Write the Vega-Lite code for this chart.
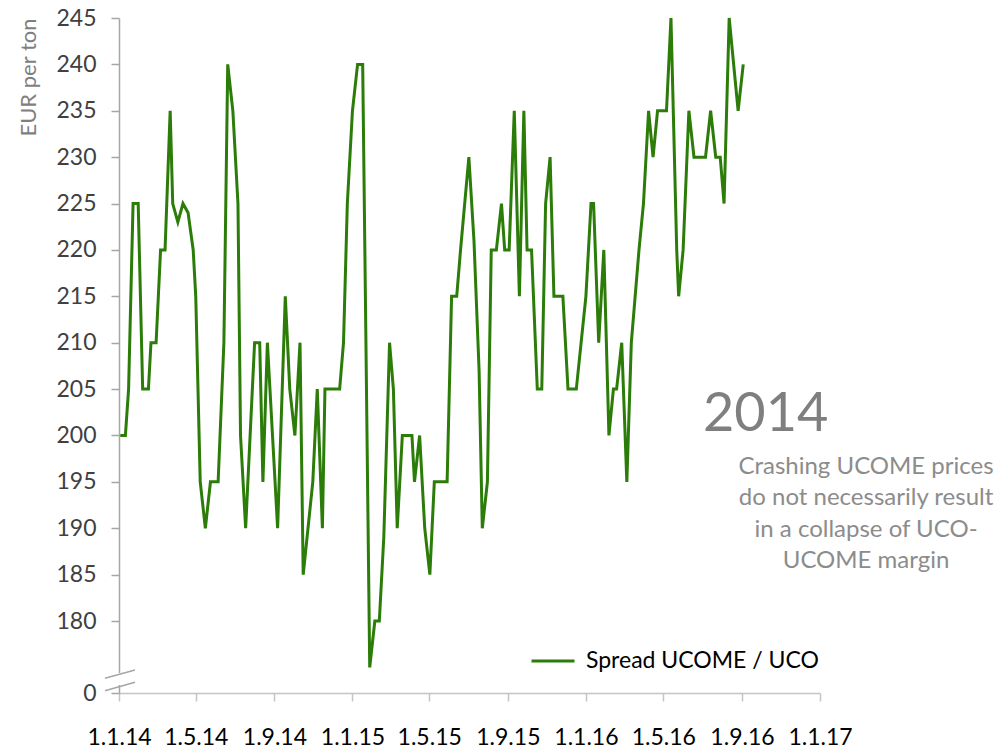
{
  "$schema": "https://vega.github.io/schema/vega-lite/v6.json",
  "width": 701,
  "height": 675,
  "autosize": {"type": "none"},
  "padding": {"left": 119, "top": 18, "right": 182, "bottom": 55},
  "background": "white",
  "config": {"view": {"stroke": null}, "font": "Lato"},
  "layer": [
    {
      "data": {"values": [
        {"date": "2014-01-03", "value": 200}, {"date": "2014-01-11", "value": 200}, {"date": "2014-01-16", "value": 205},
        {"date": "2014-01-23", "value": 225}, {"date": "2014-01-31", "value": 225}, {"date": "2014-02-07", "value": 205},
        {"date": "2014-02-16", "value": 205}, {"date": "2014-02-20", "value": 210}, {"date": "2014-02-28", "value": 210},
        {"date": "2014-03-07", "value": 220}, {"date": "2014-03-14", "value": 220}, {"date": "2014-03-22", "value": 235},
        {"date": "2014-03-26", "value": 225}, {"date": "2014-04-03", "value": 223}, {"date": "2014-04-11", "value": 225},
        {"date": "2014-04-19", "value": 224}, {"date": "2014-04-27", "value": 220}, {"date": "2014-05-01", "value": 215},
        {"date": "2014-05-08", "value": 195}, {"date": "2014-05-16", "value": 190}, {"date": "2014-05-24", "value": 195},
        {"date": "2014-06-05", "value": 195}, {"date": "2014-06-14", "value": 210}, {"date": "2014-06-20", "value": 240},
        {"date": "2014-06-28", "value": 235}, {"date": "2014-07-06", "value": 225}, {"date": "2014-07-10", "value": 200},
        {"date": "2014-07-18", "value": 190}, {"date": "2014-08-01", "value": 210}, {"date": "2014-08-09", "value": 210},
        {"date": "2014-08-14", "value": 195}, {"date": "2014-08-21", "value": 210}, {"date": "2014-09-06", "value": 190},
        {"date": "2014-09-18", "value": 215}, {"date": "2014-09-25", "value": 205}, {"date": "2014-10-03", "value": 200},
        {"date": "2014-10-11", "value": 210}, {"date": "2014-10-16", "value": 185}, {"date": "2014-10-31", "value": 195},
        {"date": "2014-11-07", "value": 205}, {"date": "2014-11-15", "value": 190}, {"date": "2014-11-19", "value": 205},
        {"date": "2014-12-12", "value": 205}, {"date": "2014-12-18", "value": 210}, {"date": "2014-12-24", "value": 225},
        {"date": "2015-01-01", "value": 235}, {"date": "2015-01-09", "value": 240}, {"date": "2015-01-17", "value": 240},
        {"date": "2015-01-28", "value": 175}, {"date": "2015-02-05", "value": 180}, {"date": "2015-02-12", "value": 180},
        {"date": "2015-02-19", "value": 189}, {"date": "2015-02-28", "value": 210}, {"date": "2015-03-06", "value": 205},
        {"date": "2015-03-12", "value": 190}, {"date": "2015-03-20", "value": 200}, {"date": "2015-04-04", "value": 200},
        {"date": "2015-04-08", "value": 195}, {"date": "2015-04-16", "value": 200}, {"date": "2015-04-24", "value": 190},
        {"date": "2015-05-02", "value": 185}, {"date": "2015-05-09", "value": 195}, {"date": "2015-05-29", "value": 195},
        {"date": "2015-06-05", "value": 215}, {"date": "2015-06-13", "value": 215}, {"date": "2015-06-19", "value": 220},
        {"date": "2015-07-02", "value": 230}, {"date": "2015-07-10", "value": 221}, {"date": "2015-07-18", "value": 207},
        {"date": "2015-07-23", "value": 190}, {"date": "2015-07-31", "value": 195}, {"date": "2015-08-06", "value": 220},
        {"date": "2015-08-14", "value": 220}, {"date": "2015-08-22", "value": 225}, {"date": "2015-08-27", "value": 220},
        {"date": "2015-09-03", "value": 220}, {"date": "2015-09-11", "value": 235}, {"date": "2015-09-19", "value": 215},
        {"date": "2015-09-26", "value": 235}, {"date": "2015-10-01", "value": 220}, {"date": "2015-10-08", "value": 220},
        {"date": "2015-10-17", "value": 205}, {"date": "2015-10-24", "value": 205}, {"date": "2015-10-30", "value": 225},
        {"date": "2015-11-06", "value": 230}, {"date": "2015-11-12", "value": 215}, {"date": "2015-11-26", "value": 215},
        {"date": "2015-12-04", "value": 205}, {"date": "2015-12-17", "value": 205}, {"date": "2016-01-01", "value": 215},
        {"date": "2016-01-09", "value": 225}, {"date": "2016-01-13", "value": 225}, {"date": "2016-01-21", "value": 210},
        {"date": "2016-01-29", "value": 220}, {"date": "2016-02-06", "value": 200}, {"date": "2016-02-13", "value": 205},
        {"date": "2016-02-18", "value": 205}, {"date": "2016-02-26", "value": 210}, {"date": "2016-03-05", "value": 195},
        {"date": "2016-03-12", "value": 210}, {"date": "2016-03-18", "value": 215}, {"date": "2016-03-24", "value": 220},
        {"date": "2016-03-31", "value": 225}, {"date": "2016-04-08", "value": 235}, {"date": "2016-04-15", "value": 230},
        {"date": "2016-04-22", "value": 235}, {"date": "2016-05-06", "value": 235}, {"date": "2016-05-13", "value": 245},
        {"date": "2016-05-22", "value": 220}, {"date": "2016-05-25", "value": 215}, {"date": "2016-06-01", "value": 220},
        {"date": "2016-06-10", "value": 235}, {"date": "2016-06-18", "value": 230}, {"date": "2016-07-06", "value": 230},
        {"date": "2016-07-14", "value": 235}, {"date": "2016-07-22", "value": 230}, {"date": "2016-07-29", "value": 230},
        {"date": "2016-08-04", "value": 225}, {"date": "2016-08-12", "value": 245}, {"date": "2016-08-26", "value": 235},
        {"date": "2016-09-03", "value": 240}
      ]},
      "mark": {"type": "line", "strokeWidth": 3},
      "encoding": {
        "x": {
          "field": "date", "type": "temporal",
          "scale": {"type": "utc", "domain": [{"year": 2014, "month": 1, "date": 1, "utc": true}, {"year": 2017, "month": 1, "date": 1, "utc": true}]},
          "axis": {
            "values": [
              {"year": 2014, "month": 1, "date": 1, "utc": true}, {"year": 2014, "month": 5, "date": 1, "utc": true},
              {"year": 2014, "month": 9, "date": 1, "utc": true}, {"year": 2015, "month": 1, "date": 1, "utc": true},
              {"year": 2015, "month": 5, "date": 1, "utc": true}, {"year": 2015, "month": 9, "date": 1, "utc": true},
              {"year": 2016, "month": 1, "date": 1, "utc": true}, {"year": 2016, "month": 5, "date": 1, "utc": true},
              {"year": 2016, "month": 9, "date": 1, "utc": true}, {"year": 2017, "month": 1, "date": 1, "utc": true}
            ],
            "labelExpr": "utcFormat(datum.value, '%-d.%-m.%y')",
            "title": null, "grid": false,
            "domainColor": "#c4c4c4", "domainWidth": 1.5,
            "tickColor": "#c4c4c4", "tickWidth": 1.5, "tickSize": 8,
            "labelFont": "Lato", "labelFontSize": 23, "labelColor": "#000000",
            "labelPadding": 25, "labelFlush": false, "labelOverlap": false
          }
        },
        "y": {
          "field": "value", "type": "quantitative",
          "scale": {"domain": [172.24, 245], "nice": false, "zero": false},
          "axis": {
            "values": [172.24, 180, 185, 190, 195, 200, 205, 210, 215, 220, 225, 230, 235, 240, 245],
            "labelExpr": "datum.value < 175 ? '0' : datum.label",
            "title": "EUR per ton", "titleAnchor": "end", "titleFont": "Lato", "titleFontSize": 22,
            "titleFontWeight": "normal", "titleColor": "#7f7f7f", "titlePadding": 15,
            "grid": false,
            "domainColor": "#a6a6a6", "domainWidth": 1.5,
            "tickColor": "#a6a6a6", "tickWidth": 1.5, "tickSize": 8,
            "labelFont": "Lato", "labelFontSize": 23, "labelColor": "#404040", "labelPadding": 15
          }
        },
        "color": {
          "datum": "Spread UCOME / UCO",
          "scale": {"range": ["#2b7c08"]},
          "legend": {
            "orient": "none", "legendX": 411, "legendY": 620, "title": null, "padding": 0,
            "symbolType": "stroke", "symbolStrokeWidth": 3, "symbolSize": 1849,
            "labelFont": "Lato", "labelFontSize": 23, "labelColor": "#000000", "labelOffset": 10, "labelLimit": 0
          }
        }
      }
    },
    {
      "data": {"values": [{}]},
      "mark": {"type": "rule", "color": "white", "strokeWidth": 5},
      "encoding": {
        "x": {"datum": {"year": 2014, "month": 1, "date": 1, "utc": true}, "type": "temporal"},
        "y": {"datum": 174.4},
        "y2": {"datum": 173.1}
      }
    },
    {
      "data": {"values": [
        {"g": "a", "date": "2013-12-10", "value": 173.82}, {"g": "a", "date": "2014-01-26", "value": 174.72},
        {"g": "b", "date": "2013-12-10", "value": 172.49}, {"g": "b", "date": "2014-01-26", "value": 173.39}
      ]},
      "mark": {"type": "line", "color": "#a6a6a6", "strokeWidth": 1.5},
      "encoding": {
        "x": {"field": "date", "type": "temporal"},
        "y": {"field": "value", "type": "quantitative"},
        "detail": {"field": "g"}
      }
    },
    {
      "data": {"values": [{}]},
      "mark": {"type": "text", "text": "2014", "font": "Lato", "fontSize": 54, "color": "#7f7f7f", "align": "center", "baseline": "middle", "dy": 2},
      "encoding": {
        "x": {"datum": {"year": 2016, "month": 10, "date": 8, "utc": true}, "type": "temporal"},
        "y": {"datum": 202.4}
      }
    },
    {
      "data": {"values": [{}]},
      "mark": {"type": "text", "text": ["Crashing UCOME prices", "do not necessarily result", "in a collapse of UCO-", "UCOME margin"], "font": "Lato", "fontSize": 24, "lineHeight": 31.3, "color": "#8c8c8c", "align": "center", "baseline": "middle"},
      "encoding": {
        "x": {"datum": {"year": 2017, "month": 3, "date": 14, "utc": true}, "type": "temporal"},
        "y": {"datum": 196.6}
      }
    }
  ]
}
